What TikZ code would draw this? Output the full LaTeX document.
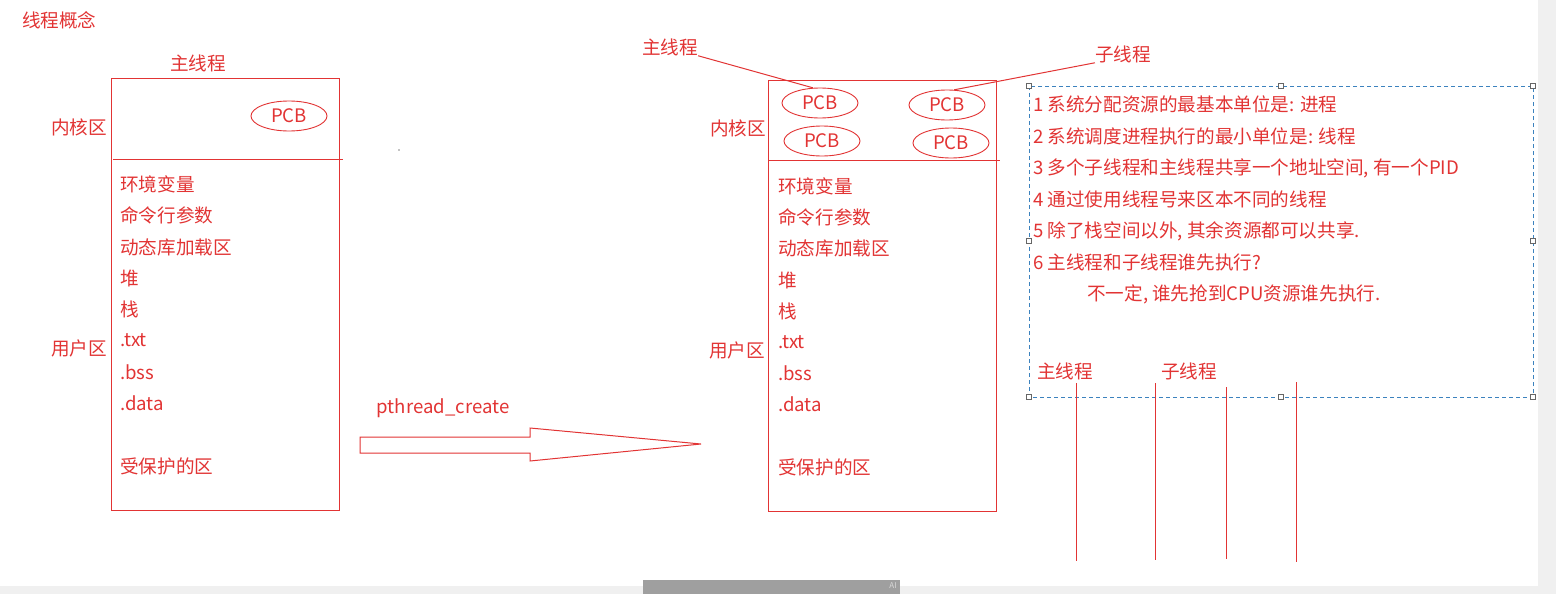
\documentclass[tikz,border=0pt]{standalone}
\usepackage{fontspec}
\setmainfont{Noto Sans CJK SC}
\usetikzlibrary{shapes.geometric}
\definecolor{rd}{RGB}{226,52,52}
\definecolor{bl}{RGB}{60,130,190}
\begin{document}
\begin{tikzpicture}[x=1pt,y=-1pt,
  txt/.style={text=rd,inner sep=0pt,font=\fontsize{18.6}{21}\selectfont},
  ltxt/.style={txt,anchor=west},
  pcb/.style={ellipse,draw=rd,line width=0.9pt,minimum width=76pt,minimum height=30pt,inner sep=0pt,text=rd,font=\fontsize{18.6}{21}\selectfont},
  rl/.style={draw=rd,line width=1pt},
  handle/.style={draw=gray!80!black,fill=white,line width=0.6pt,minimum size=5pt,inner sep=0pt}]
\useasboundingbox (0,0) rectangle (1556,594);
\fill[white] (0,0) rectangle (1556,594);
% screen chrome
\fill[gray!12] (1538,0) rectangle (1556,594);
\fill[gray!12] (0,586) rectangle (1556,594);
\fill[gray!75] (643,580) rectangle (900,594);
\node[text=gray!30,font=\fontsize{8}{9}\selectfont,inner sep=0pt] (ai) at (893,586) {AI};

\node[ltxt] (title) at (22,20) {线程概念};

% left box
\draw[rl] (111,79) rectangle (339,510);
\draw[rl] (113,159) -- (343,159);
\node[txt] (lmain) at (198,63) {主线程};
\node[pcb] (lp) at (289,116) {PCB};
\node[ltxt] (lk) at (51,127) {内核区};
\node[ltxt] (lu) at (51,348) {用户区};
\node[ltxt] (l1) at (120,184) {环境变量};
\node[ltxt] (l2) at (120,215) {命令行参数};
\node[ltxt] (l3) at (120,247) {动态库加载区};
\node[ltxt] (l4) at (120,278) {堆};
\node[ltxt] (l5) at (120,309) {栈};
\node[ltxt] (l6) at (120,340) {.txt};
\node[ltxt] (l7) at (120,372) {.bss};
\node[ltxt] (l8) at (120,403) {.data};
\node[ltxt] (l9) at (120,466) {受保护的区};
\fill[black] (399,150) circle (0.6pt);

% big arrow
\node[txt] (pc) at (443,408) {pthread\_create};
\draw[rl] (360,437) -- (530,437) -- (530,428) -- (701,444) -- (530,461) -- (530,453) -- (360,453) -- cycle;

% right box
\draw[rl] (768,81) rectangle (996,511);
\draw[rl] (769,160) -- (1000,160);
\node[pcb] (p1) at (820,103) {PCB};
\node[pcb] (p2) at (947,105) {PCB};
\node[pcb] (p3) at (822,141) {PCB};
\node[pcb] (p4) at (951,143) {PCB};
\node[txt] (rmain) at (670,47) {主线程};
\node[txt] (rsub) at (1123,54) {子线程};
\draw[rl] (rmain.south east) -- (p1.115);
\draw[rl] (rsub.south west) -- (p2.65);
\node[ltxt] (rk) at (710,128) {内核区};
\node[ltxt] (ru) at (709,350) {用户区};
\node[ltxt] (r1) at (778,186) {环境变量};
\node[ltxt] (r2) at (778,217) {命令行参数};
\node[ltxt] (r3) at (778,248) {动态库加载区};
\node[ltxt] (r4) at (778,280) {堆};
\node[ltxt] (r5) at (778,311) {栈};
\node[ltxt] (r6) at (778,342) {.txt};
\node[ltxt] (r7) at (778,373) {.bss};
\node[ltxt] (r8) at (778,404) {.data};
\node[ltxt] (r9) at (778,467) {受保护的区};

% dashed text box
\draw[bl,line width=0.8pt,dash pattern=on 4pt off 3pt] (1029,86) rectangle (1533,397);
\foreach \hx/\hy [count=\i] in {1029/86,1281/86,1533/86,1029/241,1533/241,1029/397,1281/397,1533/397}
  \node[handle] (h\i) at (\hx,\hy) {};
\node[ltxt] (t1) at (1033,104) {1 系统分配资源的最基本单位是: 进程};
\node[ltxt] (t2) at (1033,136) {2 系统调度进程执行的最小单位是: 线程};
\node[ltxt] (t3) at (1033,168) {3 多个子线程和主线程共享一个地址空间, 有一个PID};
\node[ltxt] (t4) at (1033,199) {4 通过使用线程号来区本不同的线程};
\node[ltxt] (t5) at (1033,231) {5 除了栈空间以外, 其余资源都可以共享.};
\node[ltxt] (t6) at (1033,262) {6 主线程和子线程谁先执行?};
\node[ltxt] (t7) at (1087,294) {不一定, 谁先抢到CPU资源谁先执行.};
\node[ltxt] (bm) at (1037,371) {主线程};
\node[ltxt] (bs) at (1161,371) {子线程};
\draw[rl] (1076,383) -- (1076,561);
\draw[rl] (1155,383) -- (1155,560);
\draw[rl] (1226,387) -- (1226,559);
\draw[rl] (1296,382) -- (1296,562);
\end{tikzpicture}
\end{document}
